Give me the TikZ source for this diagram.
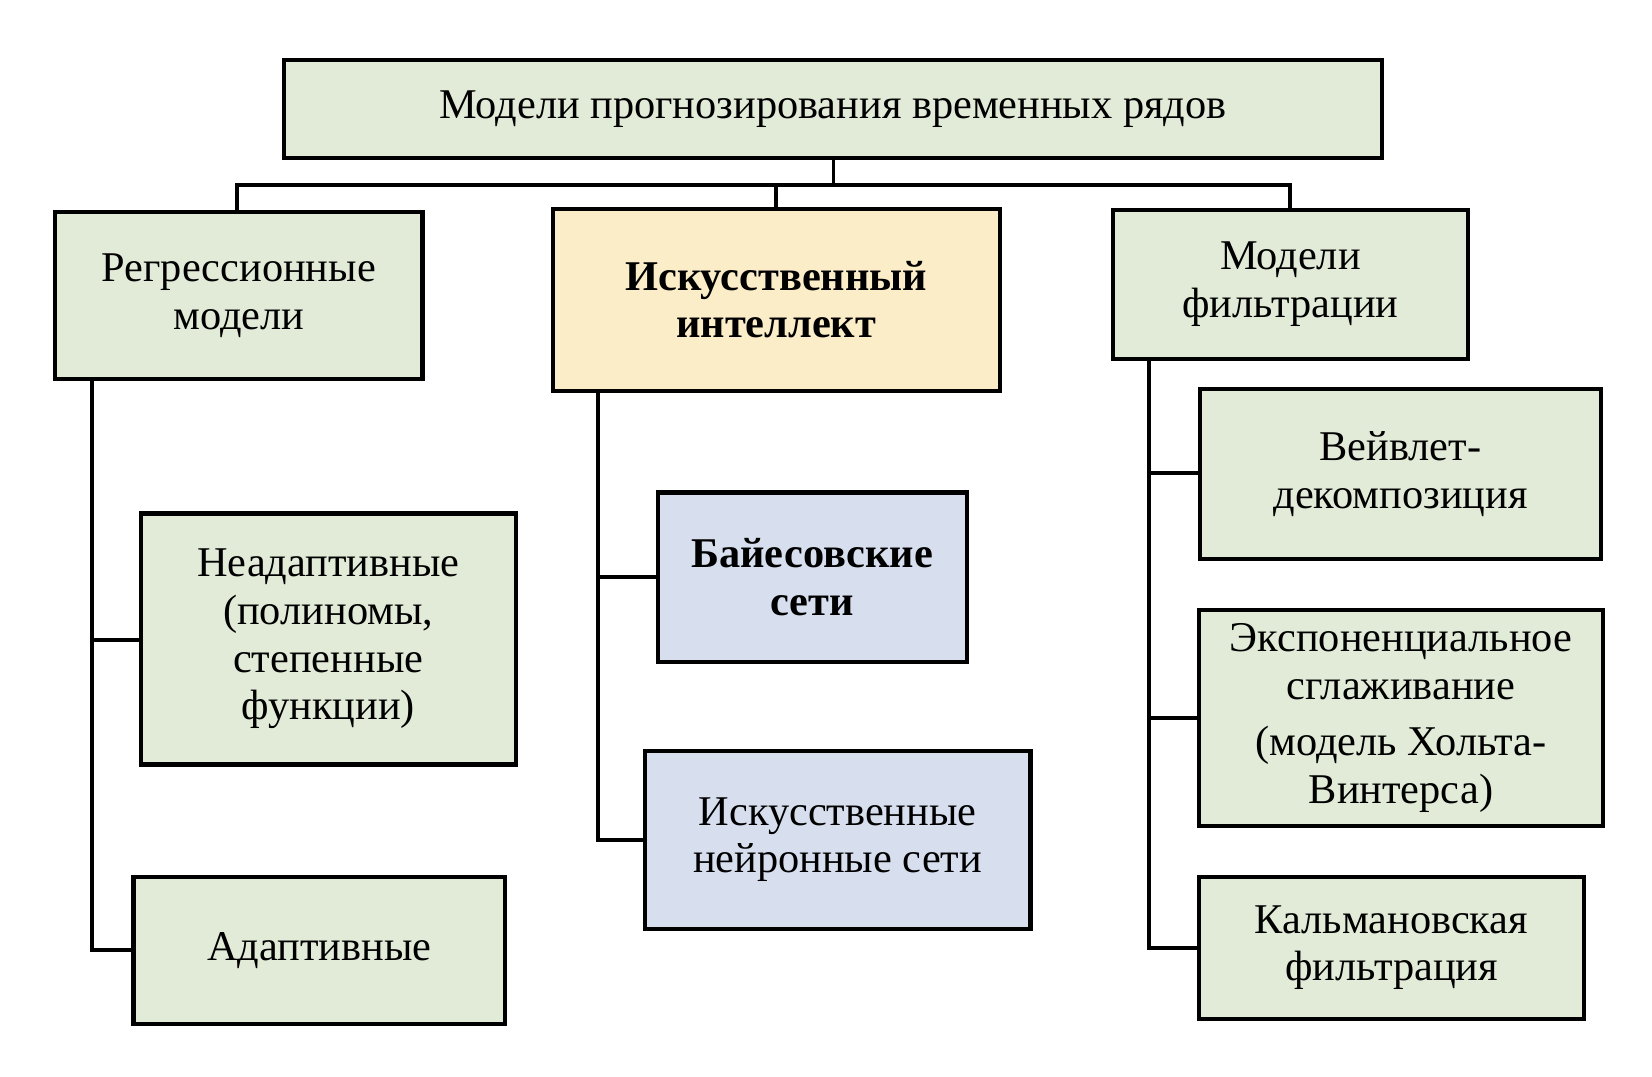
\documentclass[tikz,border=0pt]{standalone}
\usepackage{fontspec}
\setmainfont{Liberation Serif}
\begin{document}
\begin{tikzpicture}[x=0.5pt,y=-0.5pt,
  box/.style={draw=black,line width=2pt,fill=gr,align=center,font=\fontsize{20}{22.5}\selectfont},
  ln/.style={draw=black,line width=1.8pt}]
\definecolor{gr}{HTML}{E2EBD8}
\definecolor{ye}{HTML}{FCEDC9}
\definecolor{bl}{HTML}{D7DFEF}
\useasboundingbox (0,0) rectangle (1560,1017);
\newcommand\bx[6]{\path[box,#6] (#2,#3) rectangle (#4,#5); \node[align=center,font=\fontsize{20}{22.5}\selectfont] (#1) at ({(#2+#4)/2},{(#3+#5)/2}) {};}
% boxes
\path[box] (268,57) rectangle (1305,149) node[draw=none,fill=none,midway] (top) {Модели прогнозирования временных рядов};
\path[box] (52,200) rectangle (399,358) node[draw=none,fill=none,midway] (reg) {Регрессионные\\модели};
\path[box,fill=ye] (522,197) rectangle (944,369) node[draw=none,fill=none,midway,font=\fontsize{20}{22.5}\selectfont\bfseries] (ai) {Искусственный\\интеллект};
\path[box] (1051,198) rectangle (1386,339) node[draw=none,fill=none,midway] (fil) {Модели\\фильтрации};
\path[box] (133,485) rectangle (487,722) node[draw=none,fill=none,midway] (nea) {Неадаптивные\\(полиномы,\\степенные\\функции)};
\path[box] (126,828) rectangle (477,967) node[draw=none,fill=none,midway] (ada) {Адаптивные};
\path[box,fill=bl] (621,465) rectangle (913,625) node[draw=none,fill=none,midway,font=\fontsize{20}{22.5}\selectfont\bfseries] (bay) {Байесовские\\сети};
\path[box,fill=bl] (609,709) rectangle (973,877) node[draw=none,fill=none,midway] (ann) {Искусственные\\нейронные сети};
\path[box] (1133,367) rectangle (1512,528) node[draw=none,fill=none,midway] (wav) {Вейвлет-\\декомпозиция};
\path[box] (1132,576) rectangle (1514,780) node[draw=none,fill=none,midway] (exp) {Экспоненциальное\\сглаживание\\[4pt](модель Хольта-\\Винтерса)};
\path[box] (1132,828) rectangle (1496,962) node[draw=none,fill=none,midway] (kal) {Кальмановская\\фильтрация};
% connectors
\coordinate (t0) at (787,149);
\coordinate (b0) at (787,175);
\draw[ln] (t0) -- (b0);
\draw[ln] (224,200) -- (224,175) -- (1218,175) -- (1218,198);
\draw[ln] (733,197) -- (733,175);
\draw[ln] (87,358) -- (87,897) -- (126,897);
\draw[ln] (87,604) -- (133,604);
\draw[ln] (565,369) -- (565,793) -- (609,793);
\draw[ln] (565,545) -- (621,545);
\draw[ln] (1085,339) -- (1085,895) -- (1132,895);
\draw[ln] (1085,447) -- (1133,447);
\draw[ln] (1085,678) -- (1132,678);
\end{tikzpicture}
\end{document}
